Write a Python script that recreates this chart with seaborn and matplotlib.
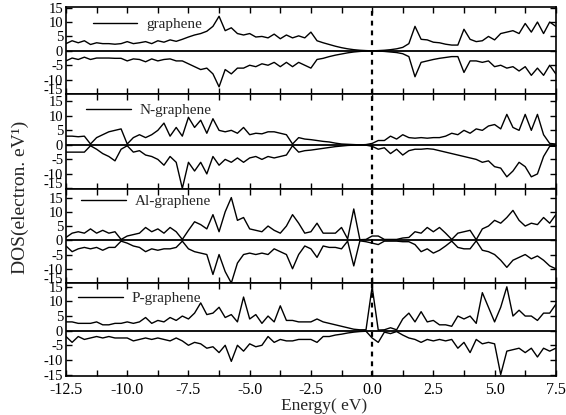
import numpy as np
import pandas as pd
import matplotlib
matplotlib.use("Agg")
import matplotlib.pyplot as plt
import seaborn as sns
from matplotlib.ticker import MultipleLocator

# Energy grid (eV): -12.5 ... 7.5 step 0.25 (81 points); each row below spans 1 eV
energy = np.arange(-12.5, 7.5001, 0.25)

graphene_up = [
    2.5, 3.5, 2.8, 3.5,   2.2, 2.8, 2.5, 2.5,   2.3, 2.5, 3.2, 2.5,   2.8, 3.2, 2.5, 3.5,
    3.0, 3.8, 3.3, 4.0,   4.8, 5.5, 6.0, 6.8,   8.5, 12.0, 7.0, 8.0,  6.0, 5.5, 6.0, 4.8,
    5.0, 4.5, 5.8, 4.2,   5.5, 4.5, 5.2, 4.5,   6.5, 3.5, 2.8, 2.2,   1.6, 1.1, 0.7, 0.4,
    0.2, 0.08, 0.0, 0.08, 0.2, 0.4, 0.7, 1.2,   2.5, 8.5, 4.0, 3.8,   3.0, 2.8, 2.3, 2.0,
    2.0, 7.5, 4.0, 3.2,   3.5, 5.0, 3.8, 6.0,   6.5, 7.0, 6.0, 9.5,   6.5, 10.0, 6.0, 10.0,
    8.5]
graphene_dn = [
    -3.5, -2.5, -3.0, -2.2,  -3.0, -2.5, -2.5, -2.5,  -2.6, -2.6, -3.5, -2.8,  -3.0, -3.8, -2.8, -3.5,
    -3.0, -2.8, -3.5, -3.5,  -4.5, -5.5, -6.5, -6.0,  -8.0, -12.5, -6.5, -8.0, -6.0, -6.0, -5.0, -5.5,
    -4.5, -5.0, -4.0, -5.5,  -4.0, -5.5, -4.0, -5.0,  -6.0, -3.0, -2.6, -2.0,  -1.5, -1.1, -0.7, -0.4,
    -0.2, -0.08, 0.0, -0.08, -0.2, -0.4, -0.6, -1.0,  -2.0, -9.0, -4.0, -3.5,  -3.0, -2.6, -2.3, -2.0,
    -2.0, -7.5, -3.5, -3.5,  -4.0, -3.5, -5.5, -5.0,  -6.0, -5.5, -7.0, -5.5,  -8.5, -6.0, -8.5, -5.0,
    -8.0]

n_up = [
    3.0, 3.0, 2.8, 3.0,   0.3, 2.5, 3.5, 4.5,   5.0, 5.5, 0.3, 2.5,   3.5, 2.5, 3.5, 5.0,
    7.5, 3.0, 6.0, 3.0,   9.5, 6.0, 8.5, 4.0,   9.0, 5.0, 4.5, 5.0,   4.0, 6.0, 3.5, 4.0,
    3.8, 4.5, 4.5, 4.0,   3.5, 0.3, 2.5, 2.0,   1.8, 1.5, 1.2, 1.0,   0.6, 0.3, 0.2, 0.1,
    0.0, 0.1, 0.5, 1.5,   1.5, 3.0, 2.0, 3.5,   2.5, 2.3, 2.5, 2.3,   2.5, 2.5, 3.0, 4.0,
    3.5, 5.0, 4.0, 5.5,   5.0, 6.5, 7.0, 5.5,   10.5, 6.0, 5.0, 10.5, 5.0, 10.5, 3.5, 0.5,
    0.3]
n_dn = [
    -2.5, -2.5, -2.5, -2.5,  -0.3, -1.5, -3.0, -4.0,  -5.5, -1.5, -0.3, -2.5,  -2.0, -3.5, -4.0, -5.0,
    -7.0, -4.0, -6.0, -15.0, -6.0, -9.0, -6.0, -10.0, -4.0, -7.0, -5.0, -6.0,  -4.5, -6.0, -4.5, -4.0,
    -5.0, -4.0, -4.5, -4.0,  -3.5, -0.3, -2.5, -2.0,  -1.8, -1.5, -1.2, -0.9,  -0.6, -0.4, -0.2, -0.1,
    0.0, -0.1, -0.5, -1.5,   -1.0, -3.0, -1.5, -3.5,  -2.0, -1.5, -1.5, -1.3,  -1.5, -2.0, -2.5, -3.0,
    -3.5, -4.0, -4.5, -5.0,  -6.0, -5.5, -7.5, -8.0,  -11.0, -9.0, -6.0, -7.5, -11.0, -10.0, -4.0, -0.5,
    -0.5]

al_up = [
    1.0, 2.5, 3.0, 2.5,   4.0, 2.5, 3.5, 2.5,   3.0, 0.3, 1.5, 2.0,   2.5, 4.5, 3.0, 4.0,
    2.5, 4.5, 3.0, 0.3,   3.5, 6.5, 5.5, 4.0,   9.0, 3.0, 10.0, 15.0, 7.0, 8.0, 4.0, 3.5,
    3.0, 5.0, 3.5, 2.5,   5.0, 9.0, 6.0, 2.5,   3.0, 6.0, 2.5, 2.5,   2.5, 4.5, 0.5, 11.0,
    0.2, 0.3, 1.5, 1.5,   0.3, 0.3, 0.3, 0.8,   1.0, 3.0, 2.5, 4.5,   3.0, 4.5, 2.5, 0.3,
    2.5, 3.0, 3.5, 0.2,   4.0, 5.0, 7.0, 6.0,   8.0, 10.5, 7.0, 5.0,  6.0, 5.5, 8.0, 6.0,
    9.0]
al_dn = [
    -2.0, -4.0, -3.0, -2.5,  -3.0, -2.5, -3.5, -2.5,  -2.5, -0.3, -1.0, -2.0,  -2.5, -4.0, -3.0, -3.5,
    -3.0, -3.0, -2.5, -0.3,  -3.0, -4.0, -4.5, -5.0,  -12.0, -5.0, -11.0, -15.0, -8.0, -5.0, -4.5, -5.0,
    -4.5, -5.0, -3.0, -4.0,  -5.0, -10.0, -5.0, -2.0, -3.0, -6.0, -2.0, -2.5,  -2.5, -3.0, -0.3, -9.0,
    -0.2, -0.5, -1.0, -1.5,  -0.3, -0.3, -0.3, -0.5,  -0.5, -1.5, -4.0, -3.0,  -4.5, -3.5, -2.0, -0.3,
    -2.5, -3.0, -3.0, -0.2,  -3.5, -4.0, -5.0, -7.0,  -9.5, -7.0, -6.0, -5.0,  -6.5, -5.5, -7.0, -9.0,
    -10.0]

p_up = [
    3.0, 3.0, 2.5, 2.5,   2.5, 3.0, 2.0, 2.0,   2.5, 2.5, 3.0, 2.5,   3.0, 4.5, 2.5, 3.5,
    3.0, 4.5, 3.5, 5.0,   4.0, 6.0, 9.5, 5.5,   6.0, 8.0, 4.5, 5.5,   3.0, 11.5, 4.0, 5.5,
    2.5, 5.0, 3.0, 8.5,   3.5, 3.5, 3.0, 3.0,   3.0, 4.0, 3.0, 2.5,   2.0, 1.5, 1.0, 0.5,
    0.3, 0.3, 15.0, 0.2,  0.3, 1.0, 0.3, 4.0,   6.0, 3.0, 6.5, 3.0,   3.5, 2.0, 2.0, 1.5,
    5.0, 4.0, 5.0, 2.5,   13.0, 8.0, 3.0, 8.0,  15.0, 5.0, 7.0, 5.0,  5.0, 3.5, 6.0, 6.0,
    9.0]
p_dn = [
    -2.0, -4.0, -2.0, -3.0,  -2.5, -2.0, -2.5, -2.0,  -2.5, -2.5, -2.5, -3.5,  -3.0, -2.5, -3.0, -2.5,
    -3.0, -3.5, -2.5, -3.5,  -5.0, -4.0, -4.5, -6.0,  -5.5, -7.5, -5.0, -10.5, -5.0, -7.0, -4.5, -5.5,
    -5.0, -2.0, -4.0, -3.0,  -3.5, -3.5, -3.0, -3.0,  -3.0, -4.0, -2.0, -2.0,  -1.5, -1.2, -0.8, -0.5,
    -0.3, -0.2, -2.5, -4.0,  -0.5, -1.0, -0.3, -1.5,  -2.5, -3.0, -4.0, -3.0,  -3.5, -3.0, -3.5, -3.0,
    -6.0, -4.0, -7.5, -3.0,  -4.5, -4.0, -4.5, -15.0, -7.0, -6.5, -6.0, -7.5,  -6.0, -9.0, -6.0, -7.0,
    -6.0]

labels = ["graphene", "N-graphene", "Al-graphene", "P-graphene"]
ups = [graphene_up, n_up, al_up, p_up]
downs = [graphene_dn, n_dn, al_dn, p_dn]
yticks = [-15, -10, -5, 0, 5, 10, 15]
xtick_labels = ["-12.5", "-10.0", "-7.5", "-5.0", "-2.5", "0.0", "2.5", "5.0", "7.5"]

sns.set_style("ticks")
plt.rcParams["font.family"] = ["Liberation Serif", "DejaVu Serif"]
plt.rcParams["axes.unicode_minus"] = False

fig = plt.figure(figsize=(5.66, 4.15), dpi=100)
gs = fig.add_gridspec(4, 1, height_ratios=[87, 95, 94, 93], hspace=0,
                      left=0.1166, right=0.982, top=0.983, bottom=0.094)
ylims = [(-14.8, 15.2), (-15.2, 17.5), (-15.0, 18.0), (-15.5, 16.3)]
leg_anchor = [(0.045, 0.93), (0.032, 0.95), (0.022, 0.99), (0.016, 0.96)]

axes = []
for i in range(4):
    ax = fig.add_subplot(gs[i])
    axes.append(ax)
    df = pd.DataFrame({"E": energy, "up": ups[i], "dn": downs[i]})
    sns.lineplot(data=df, x="E", y="up", ax=ax, color="black", lw=1.0, label=labels[i])
    sns.lineplot(data=df, x="E", y="dn", ax=ax, color="black", lw=1.0, legend=False)
    ax.axhline(0, color="black", lw=1.3)
    ax.axvline(0, color="black", lw=1.6, ls=(0, (2.2, 2.2)))
    ax.set_xlim(-12.5, 7.5)
    ax.set_ylim(*ylims[i])
    ax.set_yticks(yticks)
    ax.set_yticklabels([str(v) for v in yticks], fontsize=10.5)
    if i < 3:
        # lowest label sits slightly above its tick, as in the reference
        ax.get_yticklabels()[0].set_verticalalignment("baseline")
    ax.xaxis.set_major_locator(MultipleLocator(2.5))
    ax.xaxis.set_minor_locator(MultipleLocator(1.25))
    ax.tick_params(which="both", direction="in", top=True, right=True,
                   length=4, width=1.0, pad=2, colors="black")
    for s in ax.spines.values():
        s.set_linewidth(1.2)
        s.set_color("black")
    ax.set_xlabel("")
    ax.set_ylabel("")
    if i < 3:
        ax.tick_params(labelbottom=False)
    else:
        ax.set_xticks(np.arange(-12.5, 7.51, 2.5))
        ax.set_xticklabels(xtick_labels, fontsize=11.5)
        ax.tick_params(axis="x", pad=4)
    ax.legend(loc="upper left", bbox_to_anchor=leg_anchor[i], frameon=False,
              fontsize=11, handlelength=2.9, handletextpad=0.6,
              borderaxespad=0.0, borderpad=0.3)

fig.text(0.036, 0.525, "DOS(electron. eV\u00b9)", rotation=90, ha="center", va="center",
         fontsize=14)
fig.text(0.572, 0.022, "Energy( eV)", ha="center", va="center", fontsize=12.5)

fig.savefig("out.png", dpi=100)
